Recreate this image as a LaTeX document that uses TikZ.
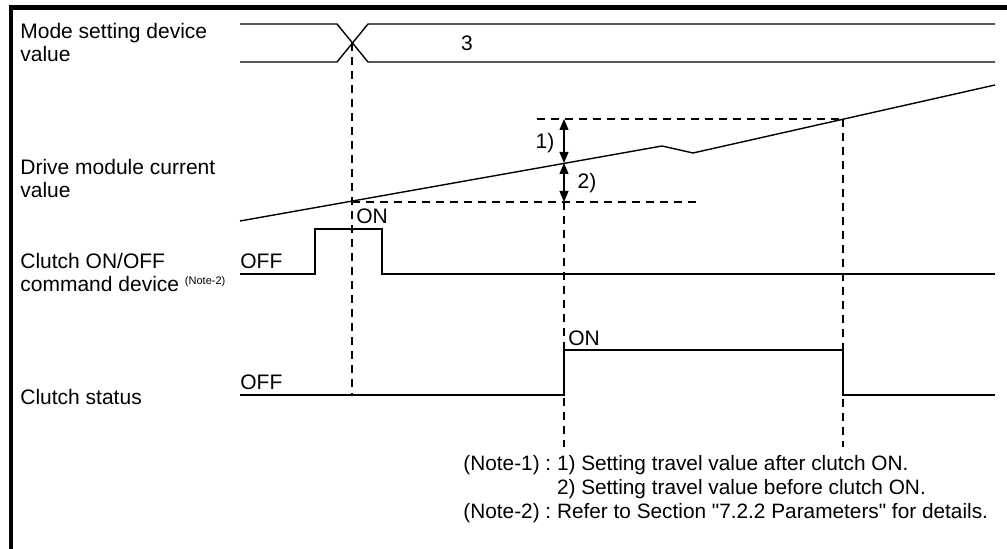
\documentclass[tikz,border=0pt]{standalone}
\usepackage{fontspec}
\setmainfont{Liberation Sans}
\usetikzlibrary{arrows.meta}
\frenchspacing
\tikzset{
  sig/.style={line width=0.7pt},
  guide/.style={line width=0.55pt,dash pattern=on 4pt off 3pt},
  lbl/.style={anchor=base west,inner sep=0pt,align=left,
    font=\fontsize{10.5}{11.5}\selectfont},
  dimarrow/.style={line width=0.6pt,
    {Triangle[width=4.5pt,length=5.5pt]}-{Triangle[width=4.5pt,length=5.5pt]}},
}
\begin{document}
\begin{tikzpicture}[x=0.5pt,y=-0.5pt]
            \useasboundingbox (0,0) rectangle (1007,549);
            \def\xs{240}
            \def\xe{995}
            \def\xa{352}
            \def\xb{564}
            \def\xc{843}
            % frame
            \draw[line width=2.3pt] (11,549)--(11,7.5)--(1007,7.5);
            % mode setting device value
            \draw[sig] (\xs,24)--(337,24)--(368,62)--(\xe,62);
            \draw[sig] (\xs,62)--(337,62)--(368,24)--(\xe,24);
            \node[lbl,anchor=center] (mval) at (467,43) {3};
            % drive module current value
            \draw[sig] (\xs,221)--(662,146)--(693,153)--(\xe,85);
            \coordinate (ttop) at (\xb,119);
            \coordinate (tmid) at (\xb,163);
            \coordinate (tbot) at (\xb,202);
            \draw[guide] (537,119)--(\xc,119);
            \draw[guide] (\xa,202)--(697,202);
            \draw[dimarrow] (ttop)--(tmid);
            \draw[dimarrow] (tmid)--(tbot);
            \node[lbl,anchor=center] (after) at (545,143) {1)};
            \node[lbl,anchor=center] (before) at (587,183) {2)};
            % clutch ON/OFF command device
            \draw[sig] (\xs,274)--(315,274)--(315,229)--(382,229)
                --(382,274)--(\xe,274);
            \node[lbl] (cmdoff) at (\xs,269) {OFF};
            \node[lbl] (cmdon) at (356,224) {ON};
            % clutch status
            \draw[sig] (\xs,395)--(\xb,395)--(\xb,350)--(\xc,350)
                --(\xc,395)--(\xe,395);
            \node[lbl] (stoff) at (\xs,390) {OFF};
            \node[lbl] (ston) at (568,346) {ON};
            % timing guides
            \draw[guide] (\xa,43)--(\xa,395);
            \draw[guide] (tbot)--(\xb,447);
            \draw[guide] (\xc,119)--(\xc,447);
            % signal names (base = last line)
            \node[lbl] (modename) at (20,62)
                {Mode setting device\\value};
            \node[lbl] (drivename) at (20,198)
                {Drive module current\\value};
            \node[lbl] (cmdname) at (20,292)
                {Clutch ON/OFF\\command device
                 \raisebox{0.7ex}{\fontsize{5.5}{6}\selectfont(Note-2)}};
            \node[lbl] (statname) at (20,405) {Clutch status};
            % notes
            \node[lbl,font=\fontsize{10.4}{12}\selectfont] (notes) at (463,519)
                {(Note-1) : 1) Setting travel value after clutch ON.\\
                 \phantom{(Note-1) : }2) Setting travel value before clutch ON.\\
                 (Note-2) : Refer to Section \textquotedbl 7.2.2 Parameters\textquotedbl{} for details.};
\end{tikzpicture}
\end{document}
